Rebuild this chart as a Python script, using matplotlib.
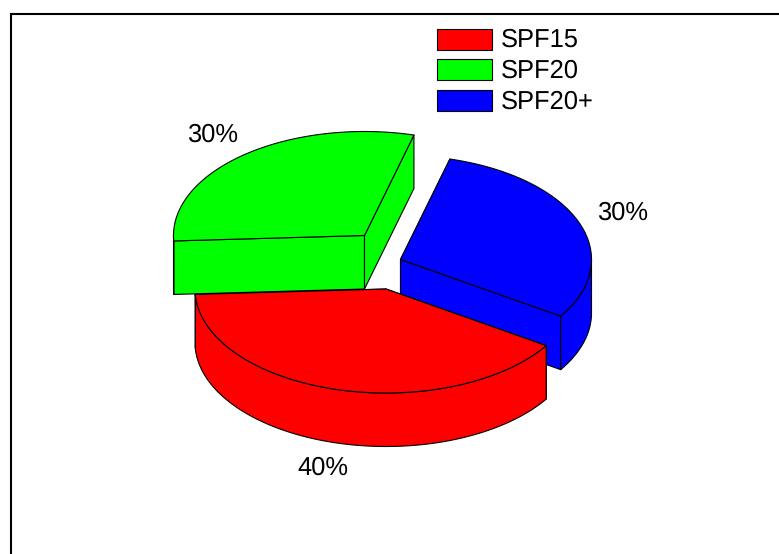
import numpy as np
import matplotlib
matplotlib.use("Agg")
import matplotlib.pyplot as plt
from matplotlib.patches import Polygon, Rectangle

plt.rcParams['font.family'] = ['Liberation Sans', 'DejaVu Sans']
plt.rcParams['text.hinting'] = 'no_hinting'

# Sunscreen usage shares
categories = ["SPF15", "SPF20", "SPF20+"]
shares = [40, 30, 30]
colors = ["#ff0000", "#00ff00", "#0000ff"]

# Pie geometry in pixel space
RX, RY, DEPTH = 191.0, 104.0, 53.5
START_ANGLE = 33.0
APEX = {"SPF15": (386, 289), "SPF20": (364.5, 235.5), "SPF20+": (400.5, 259.5)}
LABEL_POS = {"SPF15": (323, 468.5), "SPF20": (213, 135.5), "SPF20+": (623, 213.5)}
LW = 0.8
FONT_SIZE = 18.4

fig = plt.figure(figsize=(7.79, 5.54), dpi=100)
ax = fig.add_axes([0, 0, 1, 1])
ax.set_xlim(0, 779)
ax.set_ylim(554, 0)
ax.axis("off")

# Outer frame: left and top rules only reach the canvas edges
ax.plot([11, 11, 779], [553.5, 14, 14], color="black", lw=1.5,
        solid_joinstyle="miter", solid_capstyle="butt")


def arc(cx, cy, t0, t1, dy=0.0):
    t = np.radians(np.linspace(t0, t1, 160))
    return np.column_stack([cx + RX * np.cos(t), cy + RY * np.sin(t) + dy])


def poly(points, color, z):
    ax.add_patch(Polygon(points, closed=True, facecolor=color, edgecolor="black",
                         lw=LW, joinstyle="round", zorder=z))


# Sweep of each wedge, running clockwise on screen
fractions = np.array(shares) / sum(shares)
sweeps = fractions * 360.0
starts = START_ANGLE + np.concatenate([[0], np.cumsum(sweeps)[:-1]])
layer = {"SPF20": 2, "SPF20+": 3, "SPF15": 4}

for name, col, t0, sweep, share in zip(categories, colors, starts, sweeps, shares):
    t1 = t0 + sweep
    cx, cy = APEX[name]
    z = layer[name]
    a = np.array([cx, cy], dtype=float)
    d = np.array([0, DEPTH])
    # Cut faces running down from the two radial edges
    for edge in (arc(cx, cy, t0, t0)[0], arc(cx, cy, t1, t1)[0]):
        poly([a, edge, edge + d, a + d], col, z)
    # Outer rim: only the part facing the viewer
    k0 = 360.0 * np.floor(t0 / 360.0)
    vis0, vis1 = max(t0, k0), min(t1, k0 + 180.0)
    if t1 > k0 + 360.0:
        vis0, vis1 = k0 + 360.0, t1
    if vis1 > vis0:
        top_edge = arc(cx, cy, vis0, vis1)
        poly(np.vstack([top_edge, arc(cx, cy, vis0, vis1, DEPTH)[::-1]]), col, z)
    # Top surface
    poly(np.vstack([a[None, :], arc(cx, cy, t0, t1)]), col, z)
    # Percentage label
    lx, ly = LABEL_POS[name]
    ax.text(lx, ly, f"{share}%", fontsize=FONT_SIZE, ha="center", va="center", color="black", zorder=6)

# Legend
for i, (name, col) in enumerate(zip(categories, colors)):
    y = 28.5 + i * 30.8
    ax.add_patch(Rectangle((437.5, y), 55, 21, facecolor=col, edgecolor="black", lw=LW, zorder=6))
    ax.text(501, y + 11.5, name, fontsize=FONT_SIZE, ha="left", va="center", color="black", zorder=6)

fig.savefig("out.png", dpi=100, facecolor="white")
